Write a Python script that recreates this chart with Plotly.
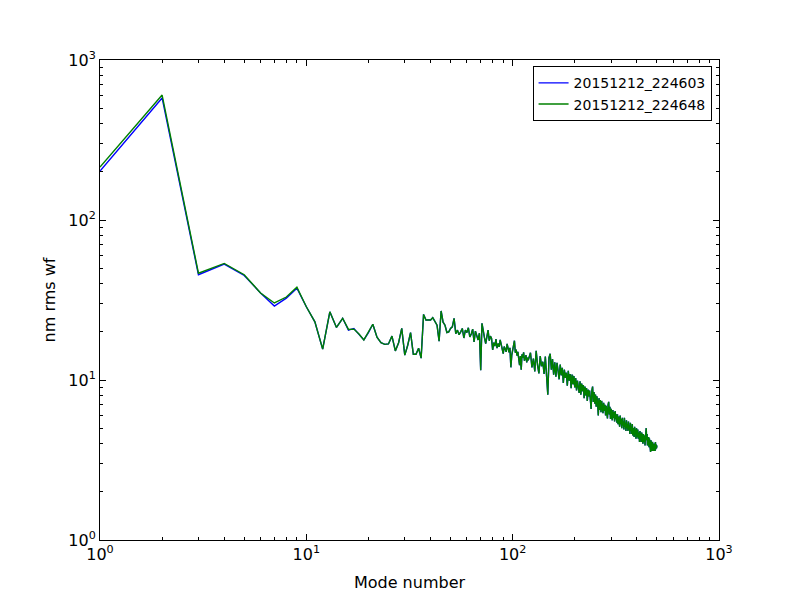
import plotly.graph_objects as go

# ---- data ----
head_modes = list(range(1, 56))
head_blue = [202, 579, 45.5, 53, 45, 35, 29.0, 32.5, 37.5, 28.7,
             23.1, 15.6, 26.7, 21.3, 24.3, 20.5, 21.0, 19.4, 17.8, 19.8,
             22.3, 18.5, 17.1, 16.7, 16.8, 18.8, 15.2, 17.1, 21.0, 14.3,
             16.5, 19.8, 14.5, 14.5, 15.8, 13.7, 25.7, 23.7, 23.8, 23.7,
             24.5, 23.1, 22.0, 17.5, 27.0, 23.0, 22.0, 19.8, 20.0, 21.0,
             21.5, 24.3, 19.5, 20.5, 19.2]
head_green = [214, 604, 46.5, 53.5, 45.5, 35, 30.3, 33.0, 38.0, 28.7,
              23.1, 15.6, 26.7, 21.3, 24.3, 20.7, 20.8, 19.4, 17.8, 19.8,
              22.3, 18.5, 17.1, 16.7, 16.8, 18.8, 15.2, 17.1, 21.0, 14.3,
              16.5, 19.8, 14.5, 14.5, 15.8, 13.7, 25.7, 23.7, 23.8, 23.7,
              24.5, 23.1, 22.0, 17.5, 27.0, 23.0, 22.0, 19.8, 20.0, 21.0,
              21.5, 24.3, 19.5, 20.5, 19.2]

tail_modes = list(range(56, 121)) + list(range(122, 501, 2))
tail_vals = [
    # 56-120 (every mode)
    20.0, 21.0, 18.3, 20.5, 19.8, 21.2, 18.6, 19.4, 20.8, 17.3,
    20.2, 18.9, 17.8, 19.6, 11.5, 22.6, 19.8, 18.4, 16.9, 19.2,
    20.5, 17.6, 18.8, 18.2, 15.4, 17.1, 16.3, 18.0, 15.8, 16.9,
    16.1, 17.8, 16.5, 15.0, 14.6, 16.2, 15.4, 15.0, 16.8, 15.6,
    14.9, 15.9, 12.0, 14.3, 15.2, 16.0, 17.6, 14.8, 15.5, 14.2,
    15.0, 13.6, 12.4, 14.1, 11.6, 14.5, 13.8, 14.9, 13.2, 13.7,
    14.3, 12.9, 13.8, 13.3, 14.0,
    # 122-500 (every 2nd mode)
    14.8, 12.0, 13.6, 11.3, 15.2, 12.4, 11.0, 14.1, 12.2, 13.0,
    10.9, 14.0, 10.2, 8.1, 13.8, 14.6, 11.6, 13.5, 10.8, 12.9,
    10.5, 12.8, 11.4, 10.1, 12.5, 10.7, 11.9, 9.6, 11.6, 10.3,
    11.1, 9.2, 11.4, 9.9, 10.9, 8.9, 10.8, 9.4, 10.6, 9.0,
    10.3, 8.6, 9.9, 9.2, 8.3, 9.8, 8.1, 9.5, 8.5, 9.3,
    7.7, 9.1, 8.0, 8.9, 7.4, 8.7, 7.9, 8.6, 7.5, 6.6,
    8.6, 9.1, 7.3, 8.4, 7.1, 8.1, 6.8, 7.9, 7.2, 6.0,
    7.7, 6.5, 7.5, 6.3, 7.4, 6.9, 6.2, 7.2, 6.4, 7.0,
    6.0, 6.9, 6.3, 5.75, 7.0, 7.3, 6.1, 6.8, 5.7, 6.6,
    6.0, 5.6, 6.5, 5.8, 6.3, 5.5, 6.4, 5.7, 6.1, 5.4,
    6.1, 5.3, 5.9, 5.6, 5.1, 6.0, 5.3, 5.7, 5.0, 5.8,
    5.2, 5.5, 4.9, 5.8, 5.1, 5.4, 4.8, 5.6, 5.0, 5.3,
    4.8, 5.5, 4.9, 5.2, 4.6, 5.4, 4.8, 5.1, 4.6, 5.3,
    4.5, 5.0, 4.8, 4.4, 5.1, 4.6, 4.9, 4.3, 5.0, 4.6,
    4.4, 4.9, 4.3, 4.7, 4.5, 4.1, 4.8, 4.3, 4.6, 4.1,
    4.7, 4.2, 4.5, 4.0, 4.6, 4.3, 4.1, 4.5, 3.9, 4.4,
    4.7, 5.0, 4.2, 4.6, 3.9, 4.4, 4.1, 4.4, 3.8, 4.3,
    4.0, 3.75, 3.55, 4.2, 3.8, 4.1, 3.6, 4.1, 3.8, 4.0,
    3.6, 4.0, 3.7, 3.9, 3.6, 4.1, 3.7, 3.95, 3.75, 3.9]

labels = ["20151212_224603", "20151212_224648"]
colors = ["#0000ff", "#008000"]
tick_vals = [1, 10, 100, 1000]
tick_text = ["10<sup>0</sup>", "10<sup>1</sup>", "10<sup>2</sup>", "10<sup>3</sup>"]

modes = head_modes + tail_modes
blue = head_blue + tail_vals
green = head_green + tail_vals

fig = go.Figure()
for name, ys, col in zip(labels, [blue, green], colors):
    fig.add_trace(go.Scatter(x=modes, y=ys, mode="lines", name=name,
                             line=dict(color=col, width=1.4)))

minor_vals = [m * 10 ** d for d in range(3) for m in range(2, 10)]
axis_common = dict(
    type="log", range=[0, 3], showgrid=False, zeroline=False,
    showline=True, linecolor="black", linewidth=1, mirror="allticks",
    ticks="inside", ticklen=6, tickcolor="black", tickwidth=1,
    tickvals=tick_vals, ticktext=tick_text,
    tickfont=dict(family="DejaVu Sans", size=16, color="black"),
    minor=dict(ticks="inside", ticklen=3, tickcolor="black", tickwidth=1,
               tickvals=minor_vals, showgrid=False),
)

fig.update_layout(
    width=800, height=600,
    margin=dict(l=100, r=81, t=60, b=60),
    paper_bgcolor="white", plot_bgcolor="white",
    font=dict(family="DejaVu Sans", color="black"),
    xaxis=dict(axis_common, title=dict(text="Mode number", font=dict(size=16), standoff=13)),
    yaxis=dict(axis_common, title=dict(text="nm rms wf", font=dict(size=16), standoff=8)),
    legend=dict(x=0.988, y=0.987, xanchor="right", yanchor="top",
                bgcolor="white", bordercolor="black", borderwidth=1,
                font=dict(family="DejaVu Sans", size=14, color="black")),
    showlegend=True,
)

fig.write_html("out.html")
